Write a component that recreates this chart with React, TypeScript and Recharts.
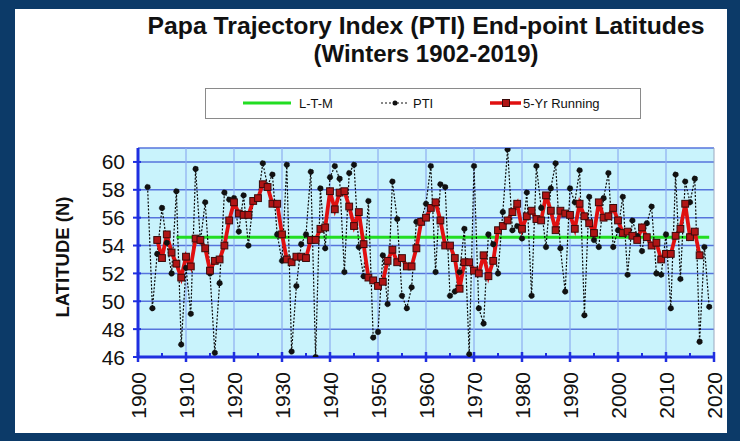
import React from "react";
import {
  ComposedChart,
  Line,
  XAxis,
  YAxis,
  CartesianGrid,
  ReferenceLine,
} from "recharts";

const FIRST_YEAR = 1902;
const PTI: number[] = [
  58.2, 49.5, 53.4, 56.7, 54.2, 52.0, 57.9, 46.9, 52.4, 49.1, // 1902-1911
  59.5, 54.3, 57.1, 52.0, 46.3, 51.3, 57.8, 57.3, 57.4, 55.0, // 1912-1921
  57.6, 54.0, 57.2, 57.4, 59.9, 58.3, 59.1, 54.8, 52.9, 59.8, // 1922-1931
  46.4, 51.1, 54.1, 54.8, 59.3, 46.0, 58.1, 53.8, 58.9, 59.7, // 1932-1941
  58.8, 52.1, 59.2, 59.8, 53.9, 51.8, 57.2, 47.4, 47.8, 53.3, // 1942-1951
  49.8, 58.6, 55.9, 50.4, 49.5, 51.0, 55.7, 55.8, 57.0, 59.7, // 1952-1961
  52.1, 58.4, 58.2, 50.4, 50.7, 52.1, 55.2, 46.2, 59.7, 49.5, // 1962-1971
  48.4, 54.8, 54.1, 52.0, 56.4, 60.9, 55.1, 55.4, 54.5, 57.8, // 1972-1981
  50.4, 59.7, 56.7, 53.9, 58.1, 59.9, 53.8, 50.7, 58.1, 57.1, // 1982-1991
  59.4, 49.0, 57.5, 54.4, 53.9, 57.4, 59.2, 53.9, 55.1, 57.5, // 1992-2001
  51.9, 55.8, 54.7, 53.6, 55.6, 56.8, 52.0, 51.9, 54.8, 49.5, // 2002-2011
  59.1, 51.6, 58.6, 57.1, 58.8, 47.1, 53.9, 49.6,             // 2012-2019
];

const RM_FIRST_YEAR = 1904;
const RUNNING: number[] = [
  54.4, 53.1, 54.8, 53.5, 52.7, 51.7, 53.2, 52.5, 54.5, 54.4, // 1904-1913
  53.8, 52.2, 52.9, 53.0, 54.0, 55.8, 57.1, 56.3, 56.2, 56.2, // 1914-1923
  57.2, 57.4, 58.4, 58.2, 57.0, 57.0, 54.8, 53.0, 52.8, 53.2, // 1924-1933
  53.2, 53.1, 54.4, 54.4, 55.2, 55.3, 57.9, 56.6, 57.8, 57.9, // 1934-1943
  56.8, 55.4, 56.4, 54.1, 51.7, 51.5, 51.1, 51.4, 52.9, 53.7, // 1944-1953
  52.8, 53.1, 52.5, 52.5, 53.8, 55.7, 56.0, 56.7, 57.1, 55.8, // 1954-1963
  54.0, 54.0, 53.1, 50.9, 52.8, 52.8, 52.2, 52.0, 53.3, 51.8, // 1964-1973
  52.9, 55.1, 55.4, 55.8, 56.4, 57.0, 55.2, 56.1, 56.5, 55.9, // 1974-1983
  55.8, 57.6, 56.5, 55.1, 56.5, 56.3, 56.2, 55.2, 57.0, 56.1, // 1984-1993
  55.6, 54.9, 57.1, 56.0, 56.1, 56.7, 55.8, 54.9, 55.0, 54.7, // 1994-2003
  54.4, 55.3, 54.6, 54.0, 54.2, 53.0, 53.4, 53.4, 54.7, 55.2, // 2004-2013
  57.0, 54.6, 55.0, 53.3,                                     // 2014-2017
];

const LTM_VALUE = 54.6;
const LTM_START = 1908;
const LTM_END = 2019;

const X_TICKS = [1900, 1905, 1910, 1915, 1920, 1925, 1930, 1935, 1940, 1945, 1950, 1955, 1960, 1965, 1970, 1975, 1980, 1985, 1990, 1995, 2000, 2005, 2010, 2015, 2020];
const X_GRID = [1910, 1920, 1930, 1940, 1950, 1960, 1970, 1980, 1990, 2000, 2010];
const Y_TICKS = [46, 48, 50, 52, 54, 56, 58, 60];

const TITLE_1 = "Papa Trajectory Index (PTI) End-point Latitudes";
const TITLE_2 = "(Winters 1902-2019)";
const Y_LABEL = "LATITUDE (N)";
const LEGEND_LABELS = ["L-T-M", "PTI", "5-Yr Running"];

const data = PTI.map((v, i) => {
  const year = FIRST_YEAR + i;
  const ri = year - RM_FIRST_YEAR;
  return {
    year,
    pti: v,
    rm: ri >= 0 && ri < RUNNING.length ? RUNNING[ri] : null,
    ltm: year >= LTM_START && year <= LTM_END ? LTM_VALUE : null,
  };
});

const AXIS_BLUE = "#1f2fe0";
const FONT = "'Liberation Sans', Arial, sans-serif";

const XTick = (props: any) => {
  const { x, y, payload } = props;
  const major = payload.value % 10 === 0;
  return (
    <g>
      {major ? (
        <line x1={x} x2={x} y1={y - 5} y2={y + 5} stroke={AXIS_BLUE} strokeWidth={2.5} />
      ) : (
        <line x1={x} x2={x} y1={y - 4} y2={y} stroke={AXIS_BLUE} strokeWidth={2} />
      )}
      {major && (
        <text
          x={x}
          y={y + 15}
          transform={`rotate(-90 ${x} ${y + 15})`}
          textAnchor="end"
          dominantBaseline="central"
          fontFamily={FONT}
          fontSize={21}
          fill="#111"
        >
          {payload.value}
        </text>
      )}
    </g>
  );
};

const YTick = (props: any) => {
  const { x, y, payload } = props;
  return (
    <g>
      <line x1={x - 5} x2={x + 3} y1={y} y2={y} stroke={AXIS_BLUE} strokeWidth={2} />
      <text
        x={x - 13}
        y={y}
        textAnchor="end"
        dominantBaseline="central"
        fontFamily={FONT}
        fontSize={21}
        fill="#111"
      >
        {payload.value}
      </text>
    </g>
  );
};

const SquareDot = (props: any) => {
  const { cx, cy, value } = props;
  if (value == null || cx == null || cy == null) return null;
  return <rect x={cx - 3.4} y={cy - 3.4} width={6.8} height={6.8} fill="#b01515" stroke="#3a0a0a" strokeWidth={1} />;
};

export default function App() {
  return (
    <div
      style={{
        position: "absolute",
        left: 0,
        top: 0,
        width: 740,
        height: 441,
        background: "#0c3a68",
        overflow: "hidden",
      }}
    >
      <div
        style={{
          position: "absolute",
          left: 15,
          top: 9,
          width: 712,
          height: 424,
          background: "#ffffff",
        }}
      />
      <div style={{ position: "absolute", left: 0, top: 0 }}>
        <ComposedChart
          width={740}
          height={441}
          data={data}
          margin={{ top: 148, right: 26, bottom: 0, left: 0 }}
        >
          <CartesianGrid
            vertical={false}
            stroke="#5674dc"
            strokeWidth={1.5}
            fill="#c9f3fc"
            fillOpacity={1}
          />
          {X_GRID.map((g) => (
            <ReferenceLine key={g} x={g} stroke="#8eaef0" strokeWidth={1.2} />
          ))}
          <ReferenceLine x={2020} stroke="#9aa8c0" strokeWidth={1} />
          <XAxis
            dataKey="year"
            type="number"
            domain={[1900, 2020]}
            ticks={X_TICKS}
            interval={0}
            height={84}
            tickSize={0}
            tickMargin={0}
            tickLine={false}
            axisLine={{ stroke: AXIS_BLUE, strokeWidth: 3 }}
            tick={<XTick />}
            allowDataOverflow
          />
          <YAxis
            type="number"
            domain={[46, 61]}
            ticks={Y_TICKS}
            interval={0}
            width={138}
            tickSize={0}
            tickMargin={0}
            tickLine={false}
            axisLine={{ stroke: AXIS_BLUE, strokeWidth: 3 }}
            tick={<YTick />}
            allowDataOverflow
          />
          <Line
            dataKey="ltm"
            stroke="#22dd22"
            strokeWidth={3}
            dot={false}
            isAnimationActive={false}
            connectNulls={false}
          />
          <Line
            dataKey="pti"
            stroke="#0a0a0a"
            strokeWidth={1.2}
            strokeDasharray="2 1.6"
            dot={{ r: 2.8, fill: "#111", stroke: "#111", strokeWidth: 0.5 }}
            isAnimationActive={false}
          />
          <Line
            dataKey="rm"
            stroke="#e01010"
            strokeWidth={3.8}
            dot={<SquareDot />}
            isAnimationActive={false}
            connectNulls={false}
          />
        </ComposedChart>
      </div>
      <svg
        width={740}
        height={441}
        style={{ position: "absolute", left: 0, top: 0, pointerEvents: "none" }}
      >
        <text
          x={426}
          y={34}
          textAnchor="middle"
          fontFamily={FONT}
          fontWeight="bold"
          fontSize={24}
          textLength={557}
          lengthAdjust="spacingAndGlyphs"
          fill="#111"
        >
          {TITLE_1}
        </text>
        <text
          x={426}
          y={62}
          textAnchor="middle"
          fontFamily={FONT}
          fontWeight="bold"
          fontSize={24}
          textLength={225}
          lengthAdjust="spacingAndGlyphs"
          fill="#111"
        >
          {TITLE_2}
        </text>
        <text
          x={62}
          y={257}
          transform="rotate(-90 62 257)"
          textAnchor="middle"
          dominantBaseline="central"
          fontFamily={FONT}
          fontWeight="bold"
          fontSize={18.5}
          fill="#111"
        >
          {Y_LABEL}
        </text>
        <g transform="translate(205 88)">
          <rect x={0.5} y={0.5} width={435} height={30} fill="#ffffff" stroke="#8a8a8a" strokeWidth={1} />
          <line x1={38} x2={86} y1={15} y2={15} stroke="#22dd22" strokeWidth={3} />
          <text x={94} y={15} dominantBaseline="central" fontFamily={FONT} fontSize={13} fill="#111">
            {LEGEND_LABELS[0]}
          </text>
          <line x1={176} x2={204} y1={15} y2={15} stroke="#111" strokeWidth={1} strokeDasharray="2 2" />
          <circle cx={190} cy={15} r={2.5} fill="#111" />
          <text x={208} y={15} dominantBaseline="central" fontFamily={FONT} fontSize={13} fill="#111">
            {LEGEND_LABELS[1]}
          </text>
          <line x1={285} x2={316} y1={15} y2={15} stroke="#e01010" strokeWidth={3.5} />
          <rect x={297.5} y={11.5} width={7} height={7} fill="#b01515" stroke="#3a0a0a" strokeWidth={1} />
          <text x={318} y={15} dominantBaseline="central" fontFamily={FONT} fontSize={13} fill="#111">
            {LEGEND_LABELS[2]}
          </text>
        </g>
      </svg>
    </div>
  );
}
